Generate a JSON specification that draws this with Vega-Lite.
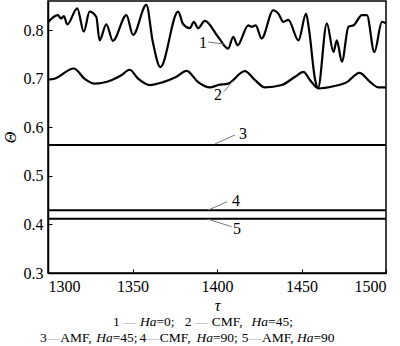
{
  "$schema": "https://vega.github.io/schema/vega-lite/v6.json",
  "width": 338,
  "height": 272,
  "autosize": {"type": "none"},
  "padding": {"left": 48, "top": 1, "right": 14, "bottom": 73},
  "background": "white",
  "config": {
    "view": {"stroke": "black", "strokeWidth": 1.5},
    "font": "Liberation Serif",
    "axis": {
      "grid": false,
      "domainColor": "black",
      "domainWidth": 1.5,
      "tickColor": "black",
      "tickSize": -4,
      "tickWidth": 1,
      "labelFont": "Liberation Serif",
      "labelFontSize": 16,
      "labelColor": "black",
      "labelPadding": 9,
      "titleFont": "Liberation Serif",
      "titleFontSize": 16,
      "titleFontWeight": "normal",
      "titleFontStyle": "italic",
      "titleColor": "black"
    }
  },
  "datasets": {
    "curves": [
      {"series": "1", "x": 1300, "y": 0.8165}, {"series": "1", "x": 1305.8, "y": 0.831}, {"series": "1", "x": 1307.8, "y": 0.824}, {"series": "1", "x": 1309.4, "y": 0.829}, {"series": "1", "x": 1311.4, "y": 0.812}, {"series": "1", "x": 1317.3, "y": 0.845}, {"series": "1", "x": 1321.2, "y": 0.797}, {"series": "1", "x": 1324.6, "y": 0.838}, {"series": "1", "x": 1328.6, "y": 0.827}, {"series": "1", "x": 1330.5, "y": 0.779}, {"series": "1", "x": 1334.5, "y": 0.812}, {"series": "1", "x": 1338.4, "y": 0.778}, {"series": "1", "x": 1346.4, "y": 0.831}, {"series": "1", "x": 1350.3, "y": 0.79}, {"series": "1", "x": 1358.2, "y": 0.852}, {"series": "1", "x": 1362.0, "y": 0.776}, {"series": "1", "x": 1366.5, "y": 0.724}, {"series": "1", "x": 1377.0, "y": 0.838}, {"series": "1", "x": 1380.0, "y": 0.812}, {"series": "1", "x": 1383.9, "y": 0.804}, {"series": "1", "x": 1386.3, "y": 0.817}, {"series": "1", "x": 1388.8, "y": 0.804}, {"series": "1", "x": 1392.8, "y": 0.819}, {"series": "1", "x": 1400.7, "y": 0.786}, {"series": "1", "x": 1406.6, "y": 0.762}, {"series": "1", "x": 1409.6, "y": 0.786}, {"series": "1", "x": 1412.2, "y": 0.769}, {"series": "1", "x": 1418.5, "y": 0.81}, {"series": "1", "x": 1420.5, "y": 0.807}, {"series": "1", "x": 1422.9, "y": 0.81}, {"series": "1", "x": 1426.4, "y": 0.783}, {"series": "1", "x": 1433.3, "y": 0.841}, {"series": "1", "x": 1436.3, "y": 0.834}, {"series": "1", "x": 1439.3, "y": 0.817}, {"series": "1", "x": 1442.2, "y": 0.821}, {"series": "1", "x": 1448.2, "y": 0.779}, {"series": "1", "x": 1452.7, "y": 0.834}, {"series": "1", "x": 1454.5, "y": 0.8}, {"series": "1", "x": 1458.1, "y": 0.697}, {"series": "1", "x": 1459.8, "y": 0.681}, {"series": "1", "x": 1465.0, "y": 0.814}, {"series": "1", "x": 1468.9, "y": 0.755}, {"series": "1", "x": 1470.9, "y": 0.779}, {"series": "1", "x": 1473.9, "y": 0.735}, {"series": "1", "x": 1477.8, "y": 0.807}, {"series": "1", "x": 1480.8, "y": 0.81}, {"series": "1", "x": 1485.8, "y": 0.831}, {"series": "1", "x": 1488.7, "y": 0.831}, {"series": "1", "x": 1493.1, "y": 0.755}, {"series": "1", "x": 1497.6, "y": 0.817}, {"series": "1", "x": 1500, "y": 0.814},
      {"series": "2", "x": 1300, "y": 0.698}, {"series": "2", "x": 1303.9, "y": 0.7}, {"series": "2", "x": 1315.3, "y": 0.721}, {"series": "2", "x": 1321.6, "y": 0.7}, {"series": "2", "x": 1327.6, "y": 0.69}, {"series": "2", "x": 1337.5, "y": 0.697}, {"series": "2", "x": 1343.4, "y": 0.707}, {"series": "2", "x": 1348.3, "y": 0.7185}, {"series": "2", "x": 1353.3, "y": 0.7}, {"series": "2", "x": 1360.2, "y": 0.687}, {"series": "2", "x": 1368.1, "y": 0.693}, {"series": "2", "x": 1376.0, "y": 0.704}, {"series": "2", "x": 1382.0, "y": 0.716}, {"series": "2", "x": 1388.8, "y": 0.693}, {"series": "2", "x": 1395.8, "y": 0.682}, {"series": "2", "x": 1400.7, "y": 0.687}, {"series": "2", "x": 1406.6, "y": 0.69}, {"series": "2", "x": 1416.5, "y": 0.7155}, {"series": "2", "x": 1422.5, "y": 0.697}, {"series": "2", "x": 1428.4, "y": 0.682}, {"series": "2", "x": 1438.3, "y": 0.687}, {"series": "2", "x": 1446.2, "y": 0.704}, {"series": "2", "x": 1451.1, "y": 0.714}, {"series": "2", "x": 1455.1, "y": 0.697}, {"series": "2", "x": 1460.0, "y": 0.68}, {"series": "2", "x": 1468.9, "y": 0.6845}, {"series": "2", "x": 1476.9, "y": 0.693}, {"series": "2", "x": 1484.3, "y": 0.712}, {"series": "2", "x": 1490.7, "y": 0.693}, {"series": "2", "x": 1495.6, "y": 0.682}, {"series": "2", "x": 1500, "y": 0.682}
    ],
    "hlines": [
      {"series": "3", "y": 0.5635},
      {"series": "4", "y": 0.429},
      {"series": "5", "y": 0.4118}
    ],
    "labels": [
      {"label": "1", "x": 1391.7, "y": 0.7735},
      {"label": "2", "x": 1400.6, "y": 0.6665},
      {"label": "3", "x": 1415.4, "y": 0.5862},
      {"label": "4", "x": 1411.2, "y": 0.4488},
      {"label": "5", "x": 1411.8, "y": 0.3906}
    ],
    "leaders": [
      {"x": 1394.7, "y": 0.7756, "x2": 1404.1, "y2": 0.7715},
      {"x": 1404.1, "y": 0.6733, "x2": 1409.0, "y2": 0.6938},
      {"x": 1398.8, "y": 0.5656, "x2": 1410.6, "y2": 0.5841},
      {"x": 1394.8, "y": 0.4297, "x2": 1406.1, "y2": 0.4468},
      {"x": 1394.3, "y": 0.4112, "x2": 1408.7, "y2": 0.3953}
    ],
    "legend": [
      {"t": "1", "x": 1338.5, "y": 0.2, "s": "n"},
      {"t": "—", "x": 1344.4, "y": 0.2, "s": "g"},
      {"t": "Ha", "x": 1354.4, "y": 0.2, "s": "i"},
      {"t": "=0;", "x": 1364.2, "y": 0.2, "s": "n"},
      {"t": "2", "x": 1380.9, "y": 0.2, "s": "n"},
      {"t": "—", "x": 1386.9, "y": 0.2, "s": "g"},
      {"t": "CMF,", "x": 1396.9, "y": 0.2, "s": "n"},
      {"t": "Ha", "x": 1420.4, "y": 0.2, "s": "i"},
      {"t": "=45;", "x": 1430.2, "y": 0.2, "s": "n"},
      {"t": "3", "x": 1295.3, "y": 0.166, "s": "n"},
      {"t": "—", "x": 1299.3, "y": 0.166, "s": "g"},
      {"t": "AMF,", "x": 1307.2, "y": 0.166, "s": "n"},
      {"t": "Ha", "x": 1328.5, "y": 0.166, "s": "i"},
      {"t": "=45;", "x": 1338.3, "y": 0.166, "s": "n"},
      {"t": "4", "x": 1354.1, "y": 0.166, "s": "n"},
      {"t": "—", "x": 1358.1, "y": 0.166, "s": "g"},
      {"t": "CMF,", "x": 1366.1, "y": 0.166, "s": "n"},
      {"t": "Ha", "x": 1387.9, "y": 0.166, "s": "i"},
      {"t": "=90;", "x": 1397.6, "y": 0.166, "s": "n"},
      {"t": "5", "x": 1414.7, "y": 0.166, "s": "n"},
      {"t": "—", "x": 1418.6, "y": 0.166, "s": "g"},
      {"t": "AMF,", "x": 1426.6, "y": 0.166, "s": "n"},
      {"t": "Ha", "x": 1447.3, "y": 0.166, "s": "i"},
      {"t": "=90", "x": 1457.1, "y": 0.166, "s": "n"}
    ]
  },
  "layer": [
    {
      "data": {"name": "curves"},
      "mark": {"type": "line", "interpolate": "monotone", "color": "black", "strokeWidth": 2.2},
      "encoding": {
        "x": {
          "field": "x", "type": "quantitative",
          "scale": {"domain": [1300, 1500], "nice": false, "zero": false},
          "axis": {"values": [1300, 1350, 1400, 1450, 1500], "format": "d", "labelFont": "Liberation Serif", "title": "τ", "titlePadding": 3}
        },
        "y": {
          "field": "y", "type": "quantitative",
          "scale": {"domain": [0.3, 0.86], "nice": false, "zero": false},
          "axis": {"values": [0.3, 0.4, 0.5, 0.6, 0.7, 0.8], "format": ".1f", "labelFont": "Liberation Serif", "title": "Θ", "titlePadding": 5}
        },
        "detail": {"field": "series"}
      }
    },
    {
      "data": {"name": "hlines"},
      "mark": {"type": "rule", "color": "black", "strokeWidth": 2},
      "encoding": {"y": {"field": "y", "type": "quantitative"}}
    },
    {
      "data": {"name": "leaders"},
      "mark": {"type": "rule", "color": "#777777", "strokeWidth": 1},
      "encoding": {
        "x": {"field": "x", "type": "quantitative"},
        "y": {"field": "y", "type": "quantitative"},
        "x2": {"field": "x2"},
        "y2": {"field": "y2"}
      }
    },
    {
      "data": {"name": "labels"},
      "mark": {"type": "text", "font": "Liberation Serif", "fontSize": 16, "color": "black", "align": "center", "baseline": "middle"},
      "encoding": {
        "x": {"field": "x", "type": "quantitative"},
        "y": {"field": "y", "type": "quantitative"},
        "text": {"field": "label"}
      }
    },
    {
      "data": {"name": "legend"},
      "transform": [{"filter": "datum.s === 'n'"}],
      "mark": {"type": "text", "font": "Liberation Serif", "fontSize": 13.5, "color": "black", "align": "left", "baseline": "middle"},
      "encoding": {
        "x": {"field": "x", "type": "quantitative"},
        "y": {"field": "y", "type": "quantitative"},
        "text": {"field": "t"}
      }
    },
    {
      "data": {"name": "legend"},
      "transform": [{"filter": "datum.s === 'i'"}],
      "mark": {"type": "text", "font": "Liberation Serif", "fontSize": 13.5, "fontStyle": "italic", "color": "black", "align": "left", "baseline": "middle"},
      "encoding": {
        "x": {"field": "x", "type": "quantitative"},
        "y": {"field": "y", "type": "quantitative"},
        "text": {"field": "t"}
      }
    },
    {
      "data": {"name": "legend"},
      "transform": [{"filter": "datum.s === 'g'"}],
      "mark": {"type": "text", "font": "Liberation Serif", "fontSize": 13.5, "color": "#aaaaaa", "align": "left", "baseline": "middle"},
      "encoding": {
        "x": {"field": "x", "type": "quantitative"},
        "y": {"field": "y", "type": "quantitative"},
        "text": {"field": "t"}
      }
    }
  ]
}
